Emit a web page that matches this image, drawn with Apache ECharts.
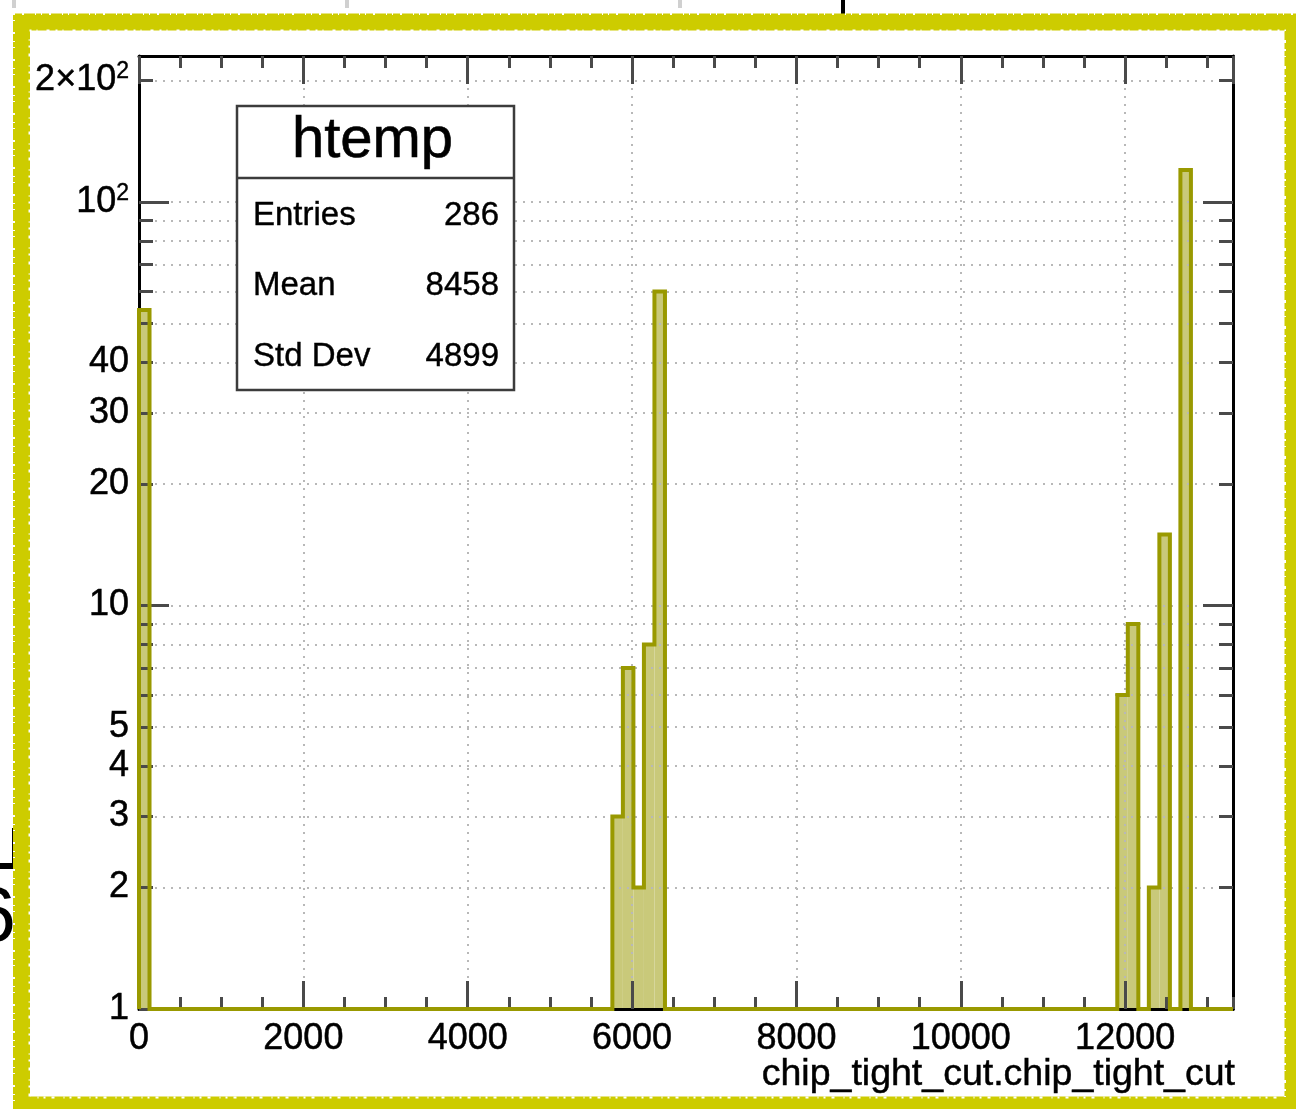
<!DOCTYPE html>
<html>
<head>
<meta charset="utf-8">
<title>htemp</title>
<script src="https://cdn.jsdelivr.net/npm/echarts@6.0.0/dist/echarts.min.js"></script>
<style>
    html, body {margin: 0; padding: 0; background: #fff;}
    #main {width: 1296px; height: 1109px;}
</style>
</head>
<body>
<div id="main"></div>
<script>
// histogram binning (ROOT htemp)
var xMin = 0;
var xMax = 13312;
var binWidth = 128;
var nBins = 104;
// bins that have entries, and their counts
var filledBins = [0, 45, 46, 47, 48, 49, 93, 94, 96, 97, 99];
var binCounts = [54, 3, 7, 2, 8, 60, 6, 9, 2, 15, 120];

// log y axis
var yMin = 1;
var yMax = 230;
var yMajorTicks = [1, 10, 100];
var yAllTicks = [1, 2, 3, 4, 5, 6, 7, 8, 9, 10, 20, 30, 40, 50, 60, 70, 80, 90, 100, 200];
var yLabelValues = [1, 2, 3, 4, 5, 10, 20, 30, 40, 100, 200];

var xTitle = 'chip_tight_cut.chip_tight_cut';
var statTitle = 'htemp';
var statNames = ['Entries', 'Mean', 'Std Dev'];
var statValues = ['286', '8458', '4899'];

var FONT = '"Liberation Sans", Arial, Helvetica, sans-serif';
var lineColor = '#999900';
var fillColor = '#c9c97a';
var tickColor = '#4a4a4a';
var gridLine = {show: true, lineStyle: {color: '#b8b8b8', width: 2, type: [2, 6]}};

// full array of counts, one per bin
var counts = [];
for (var i = 0; i < nBins; i++) counts.push(0);
for (var k = 0; k < filledBins.length; k++) counts[filledBins[k]] = binCounts[k];

var barData = [];
for (var k = 0; k < filledBins.length; k++) {
    barData.push([filledBins[k] * binWidth, (filledBins[k] + 1) * binWidth, binCounts[k]]);
}

function yLabel(value) {
    var v = Math.round(value);
    if (v === 100) return '{m|10}{s|2}';
    if (v === 200) return '{m|2\u00d710}{s|2}';
    return '{m|' + v + '}';
}

function yAxisCfg(pos, ticks, len, withLabels, withLine, withSplit) {
    return {
        type: 'log', logBase: 10, min: yMin, max: yMax, position: pos, z: 3,
        axisLine: {show: withLine, onZero: false, lineStyle: {color: '#000', width: 3}},
        axisTick: {show: true, inside: true, length: len, customValues: ticks,
            lineStyle: {color: tickColor, width: 3}},
        axisLabel: withLabels ? {
            show: true, customValues: yLabelValues, margin: 10, formatter: yLabel,
            rich: {
                m: {fontSize: 36, fontFamily: FONT, color: '#000', lineHeight: 40,
                    textBorderColor: '#000', textBorderWidth: 0.5},
                s: {fontSize: 23, fontFamily: FONT, color: '#000', verticalAlign: 'top', lineHeight: 22,
                    textBorderColor: '#000', textBorderWidth: 0.4}
            }
        } : {show: false},
        splitLine: withSplit ? gridLine : {show: false},
        minorTick: {show: false},
        minorSplitLine: {show: false}
    };
}

function xAxisCfg(pos, interval, len, withLabels, withLine, withSplit) {
    return {
        type: 'value', min: xMin, max: xMax, interval: interval, position: pos, z: 3,
        axisLine: {show: withLine, onZero: false, lineStyle: {color: '#000', width: 3}},
        axisTick: {show: true, inside: true, length: len, lineStyle: {color: tickColor, width: 3}},
        axisLabel: withLabels ? {
            show: true, margin: 12, showMaxLabel: false,
            formatter: function (v) { return String(v); },
            fontSize: 36, fontFamily: FONT, color: '#000',
            textBorderColor: '#000', textBorderWidth: 0.5
        } : {show: false},
        splitLine: withSplit ? gridLine : {show: false},
        minorTick: {show: false}
    };
}

function renderFill(params, api) {
    var p0 = api.coord([api.value(0), yMin]);
    var p1 = api.coord([api.value(1), api.value(2)]);
    return {
        type: 'rect',
        shape: {x: p0[0], y: p1[1], width: p1[0] - p0[0], height: p0[1] - p1[1]},
        style: {fill: fillColor}
    };
}

// ROOT draws the outline as one step line over all bins
function renderOutline(params, api) {
    var pts = [api.coord([xMin, yMin])];
    for (var i = 0; i < nBins; i++) {
        var h = Math.max(counts[i], yMin);
        pts.push(api.coord([i * binWidth, h]));
        pts.push(api.coord([(i + 1) * binWidth, h]));
    }
    pts.push(api.coord([xMax, yMin]));
    return {
        type: 'polyline',
        shape: {points: pts},
        style: {stroke: lineColor, lineWidth: 4, fill: 'none', lineJoin: 'miter'}
    };
}

// stats box
var boxX = 237, boxY = 106, boxW = 277, boxH = 284;
var statFont = '33px ' + FONT;
var statsBox = [
    {type: 'rect', shape: {x: boxX, y: boxY, width: boxW, height: boxH},
        style: {fill: '#fff', stroke: '#3c3c3c', lineWidth: 2.5}, z: 10},
    {type: 'line', shape: {x1: boxX, y1: 178, x2: boxX + boxW, y2: 178},
        style: {stroke: '#3c3c3c', lineWidth: 2.5}, z: 10},
    {type: 'text', x: boxX + boxW / 2 - 3, y: 141, z: 11,
        style: {text: statTitle, font: '58px ' + FONT, fill: '#000', align: 'center', verticalAlign: 'middle',
            stroke: '#000', lineWidth: 0.6}}
];
var rowY = [216, 286, 357];
for (var r = 0; r < statNames.length; r++) {
    statsBox.push({type: 'text', x: 253, y: rowY[r], z: 11,
        style: {text: statNames[r], font: statFont, fill: '#000', align: 'left', verticalAlign: 'middle',
            stroke: '#000', lineWidth: 0.4}});
    statsBox.push({type: 'text', x: 499, y: rowY[r], z: 11,
        style: {text: statValues[r], font: statFont, fill: '#000', align: 'right', verticalAlign: 'middle',
            stroke: '#000', lineWidth: 0.4}});
}

// x axis title, right aligned under the axis end
var axisTitle = {type: 'text', x: 1235, y: 1075, z: 11,
    style: {text: xTitle, font: '37.5px ' + FONT, fill: '#000', align: 'right', verticalAlign: 'middle',
        stroke: '#000', lineWidth: 0.5}};

// yellow frame and the bits of the screen around it
var frame = [
    {type: 'rect', shape: {x: 21.5, y: 22, width: 1271.5, height: 1083},
        style: {fill: 'none', stroke: '#cdcc00', lineWidth: 17}, z: 20},
    {type: 'rect', shape: {x: 29.5, y: 30.5, width: 1255.5, height: 1067},
        style: {fill: 'none', stroke: '#ffffff', lineWidth: 2, lineDash: [2, 5, 1, 9, 3, 6]}, z: 21},
    {type: 'rect', shape: {x: 14, y: 14, width: 1290, height: 1100},
        style: {fill: 'none', stroke: '#ffffff', lineWidth: 2, lineDash: [1, 7, 2, 11, 1, 5]}, z: 21},
    {type: 'rect', shape: {x: 12, y: 0, width: 4, height: 8}, style: {fill: '#d0d0d0'}, z: 19},
    {type: 'rect', shape: {x: 345, y: 0, width: 4, height: 8}, style: {fill: '#d0d0d0'}, z: 19},
    {type: 'rect', shape: {x: 678, y: 0, width: 4, height: 8}, style: {fill: '#d0d0d0'}, z: 19},
    {type: 'rect', shape: {x: 841, y: 0, width: 4, height: 16}, style: {fill: '#000'}, z: 19},
    {type: 'rect', shape: {x: 0, y: 863, width: 16, height: 6}, style: {fill: '#000'}, z: 19},
    {type: 'rect', shape: {x: 12, y: 828, width: 4, height: 38}, style: {fill: '#000'}, z: 19},
    {type: 'text', x: 16, y: 919, z: 19,
        style: {text: '6', font: '78px ' + FONT, fill: '#000', align: 'right', verticalAlign: 'middle'}}
];

var myChart = echarts.init(document.getElementById('main'), null, {renderer: 'canvas'});
myChart.setOption({
    animation: false,
    backgroundColor: '#fff',
    grid: {left: 139, right: 63, top: 56, bottom: 100, containLabel: false, outerBoundsMode: 'none'},
    xAxis: [
        xAxisCfg('bottom', 2000, 28, true, true, true),
        xAxisCfg('bottom', 500, 12, false, false, false),
        xAxisCfg('top', 2000, 28, false, true, false),
        xAxisCfg('top', 500, 12, false, false, false)
    ],
    yAxis: [
        yAxisCfg('left', yMajorTicks, 30, true, true, false),
        yAxisCfg('left', yAllTicks, 14, false, false, true),
        yAxisCfg('right', yMajorTicks, 30, false, true, false),
        yAxisCfg('right', yAllTicks, 14, false, false, false)
    ],
    series: [
        {
            type: 'custom', name: 'fill', xAxisIndex: 0, yAxisIndex: 0, z: 1,
            renderItem: renderFill, data: barData, encode: {x: [0, 1], y: 2}, silent: true
        },
        {
            type: 'custom', name: 'outline', xAxisIndex: 0, yAxisIndex: 0, z: 4,
            renderItem: renderOutline, data: [[xMin, yMin]], encode: {x: 0, y: 1}, silent: true
        }
    ],
    graphic: statsBox.concat([axisTitle]).concat(frame)
});
</script>
</body>
</html>
